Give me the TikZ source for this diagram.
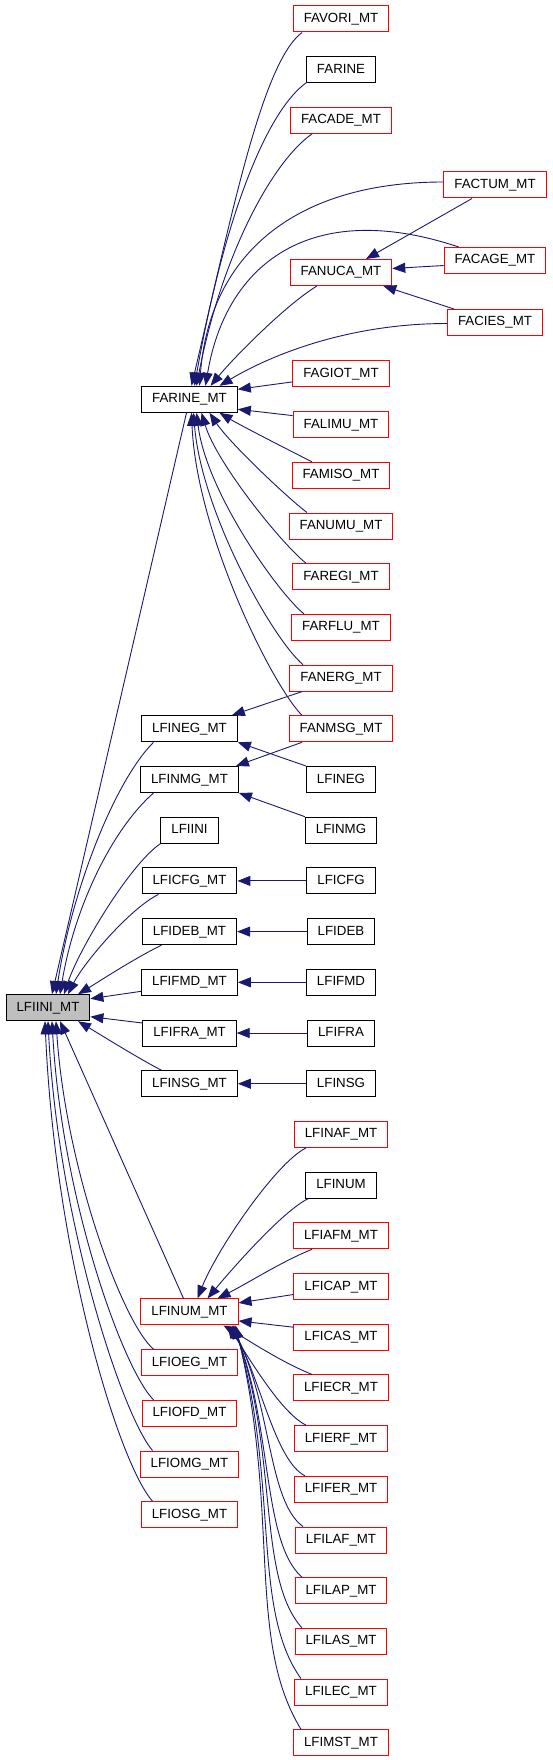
\documentclass[tikz,border=0pt]{standalone}
\usepackage{fontspec}
\setmainfont{Liberation Sans}
\usetikzlibrary{arrows.meta,calc}
\definecolor{edgeblue}{HTML}{191970}
\definecolor{boxred}{HTML}{FF0000}
\definecolor{rootgray}{HTML}{BFBFBF}
\begin{document}
\begin{tikzpicture}[x=1pt,y=-1pt,
  box/.style={draw=black, line width=1pt, rectangle, inner xsep=10.5pt, inner ysep=0pt,
    minimum height=26pt, text height=9.5pt, text depth=2.5pt, font=\fontsize{13.3}{15}\selectfont},
  rbox/.style={box, draw=boxred},
  e/.style={draw=edgeblue, line width=0.9pt, -{Triangle[length=13pt,width=10pt]}}]
\useasboundingbox (0,0) rectangle (552,1760);
% ---------- nodes ----------
\node[rbox] (FAVORIMT) at (341,19.0) {FAVORI\_MT};
\node[box]  (FARINE)   at (341,69.7) {FARINE};
\node[rbox] (FACADEMT) at (341,120.4) {FACADE\_MT};
\node[rbox] (FACTUMMT) at (495,185) {FACTUM\_MT};
\node[rbox] (FACAGEMT) at (495,260.5) {FACAGE\_MT};
\node[rbox] (FANUCAMT) at (341,272.5) {FANUCA\_MT};
\node[rbox] (FACIESMT) at (495,322.5) {FACIES\_MT};
\node[rbox] (FAGIOTMT) at (341,373.9) {FAGIOT\_MT};
\node[box]  (FARINEMT) at (189.5,399.3) {FARINE\_MT};
\node[rbox] (FALIMUMT) at (341,424.6) {FALIMU\_MT};
\node[rbox] (FAMISOMT) at (341,475.3) {FAMISO\_MT};
\node[rbox] (FANUMUMT) at (341,526.0) {FANUMU\_MT};
\node[rbox] (FAREGIMT) at (341,576.7) {FAREGI\_MT};
\node[rbox] (FARFLUMT) at (341,627.4) {FARFLU\_MT};
\node[rbox] (FANERGMT) at (341,678.1) {FANERG\_MT};
\node[rbox] (FANMSGMT) at (341,728.8) {FANMSG\_MT};
\node[box]  (LFINEGMT) at (189.5,728.8) {LFINEG\_MT};
\node[box]  (LFINMGMT) at (189.5,779.5) {LFINMG\_MT};
\node[box]  (LFINEG)   at (341,779.5) {LFINEG};
\node[box]  (LFIINI)   at (189.5,830.2) {LFIINI};
\node[box]  (LFINMG)   at (341,830.2) {LFINMG};
\node[box]  (LFICFGMT) at (189.5,880.9) {LFICFG\_MT};
\node[box]  (LFICFG)   at (341,880.9) {LFICFG};
\node[box]  (LFIDEBMT) at (189.5,931.6) {LFIDEB\_MT};
\node[box]  (LFIDEB)   at (341,931.6) {LFIDEB};
\node[box]  (LFIFMDMT) at (189.5,982.3) {LFIFMD\_MT};
\node[box]  (LFIFMD)   at (341,982.3) {LFIFMD};
\node[box, fill=rootgray] (LFIINIMT) at (48,1007.7) {LFIINI\_MT};
\node[box]  (LFIFRAMT) at (189.5,1033.0) {LFIFRA\_MT};
\node[box]  (LFIFRA)   at (341,1033.0) {LFIFRA};
\node[box]  (LFINSGMT) at (189.5,1083.7) {LFINSG\_MT};
\node[box]  (LFINSG)   at (341,1083.7) {LFINSG};
\node[rbox] (LFINAFMT) at (341,1134.4) {LFINAF\_MT};
\node[box]  (LFINUM)   at (341,1185.1) {LFINUM};
\node[rbox] (LFIAFMMT) at (341,1235.8) {LFIAFM\_MT};
\node[rbox] (LFICAPMT) at (341,1286.5) {LFICAP\_MT};
\node[rbox] (LFINUMMT) at (189.5,1311.9) {LFINUM\_MT};
\node[rbox] (LFICASMT) at (341,1337.2) {LFICAS\_MT};
\node[rbox] (LFIOEGMT) at (189.5,1362.6) {LFIOEG\_MT};
\node[rbox] (LFIECRMT) at (341,1387.9) {LFIECR\_MT};
\node[rbox] (LFIOFDMT) at (189.5,1413.3) {LFIOFD\_MT};
\node[rbox] (LFIERFMT) at (341,1438.6) {LFIERF\_MT};
\node[rbox] (LFIOMGMT) at (189.5,1464.0) {LFIOMG\_MT};
\node[rbox] (LFIFERMT) at (341,1489.3) {LFIFER\_MT};
\node[rbox] (LFIOSGMT) at (189.5,1514.7) {LFIOSG\_MT};
\node[rbox] (LFILAFMT) at (341,1540.0) {LFILAF\_MT};
\node[rbox] (LFILAPMT) at (341,1590.7) {LFILAP\_MT};
\node[rbox] (LFILASMT) at (341,1641.4) {LFILAS\_MT};
\node[rbox] (LFILECMT) at (341,1692.1) {LFILEC\_MT};
\node[rbox] (LFIMSTMT) at (341,1742.8) {LFIMST\_MT};
% ---------- edges into FARINE_MT ----------
\draw[e] ($(FAVORIMT.south)+(-39,0)$) .. controls +(-40,30) and +(40,-170) .. ($(FARINEMT.north)+(2,0)$);
\draw[e] ($(FARINE.south west)+(1,-1)$) .. controls +(-40,28) and +(30,-170) .. ($(FARINEMT.north)+(5,0)$);
\draw[e] ($(FACADEMT.south)+(-29,0)$) .. controls +(-40,28) and +(25,-130) .. ($(FARINEMT.north)+(7,0)$);
\draw[e] ($(FACTUMMT.west)+(0,-3)$) .. controls +(-150,0) and +(10,-130) .. ($(FARINEMT.north)+(10,0)$);
\draw[e] ($(FACAGEMT.north west)+(15,0)$) .. controls +(-150,-50) and +(20,-120) .. ($(FARINEMT.north)+(16,0)$);
\draw[e] ($(FANUCAMT.south)+(-24,0)$) .. controls +(-30,18) and +(25,-30) .. ($(FARINEMT.north)+(21,0)$);
\draw[e] ($(FACIESMT.west)+(0,1)$) .. controls +(-100,0) and +(50,-30) .. ($(FARINEMT.north)+(30,0)$);
\draw[e] ($(FAGIOTMT.west)+(0,8)$) -- ($(FARINEMT.east)+(0,-10)$);
\draw[e] ($(FALIMUMT.west)+(0,-9)$) -- ($(FARINEMT.east)+(0,10)$);
\draw[e] ($(FAMISOMT.north)+(-29,0)$) .. controls +(-20,-10) and +(20,12) .. ($(FARINEMT.south)+(30,0)$);
\draw[e] ($(FANUMUMT.north)+(-34,0)$) .. controls +(-20,-15) and +(20,30) .. ($(FARINEMT.south)+(20,0)$);
\draw[e] ($(FAREGIMT.north)+(-35,0)$) .. controls +(-25,-20) and +(15,50) .. ($(FARINEMT.south)+(12,0)$);
\draw[e] ($(FARFLUMT.north)+(-37,0)$) .. controls +(-25,-20) and +(10,80) .. ($(FARINEMT.south)+(7,0)$);
\draw[e] ($(FANERGMT.north)+(-38,0)$) .. controls +(-30,-25) and +(8,100) .. ($(FARINEMT.south)+(4,0)$);
\draw[e] ($(FANMSGMT.north)+(-39,0)$) .. controls +(-30,-30) and +(5,120) .. ($(FARINEMT.south)+(2,0)$);
% ---------- edges into FANUCA_MT ----------
\draw[e] ($(FACTUMMT.south)+(-23,0)$) -- ($(FANUCAMT.north)+(25,0)$);
\draw[e] ($(FACAGEMT.west)+(0,5)$) -- ($(FANUCAMT.east)+(0,-4)$);
\draw[e] ($(FACIESMT.north west)+(7,0)$) -- ($(FANUCAMT.south east)+(-9,0)$);
% ---------- edges into LFINEG_MT / LFINMG_MT ----------
\draw[e] ($(FANERGMT.south)+(-39,0)$) -- ($(LFINEGMT.north east)+(-6,0)$);
\draw[e] (LFINEG.north west) -- (LFINEGMT.south east);
\draw[e] ($(FANMSGMT.south)+(-39,0)$) -- ($(LFINMGMT.north east)+(-3,0)$);
\draw[e] (LFINMG.north west) -- (LFINMGMT.south east);
% ---------- horizontal edges ----------
\draw[e] (LFICFG.west) -- (LFICFGMT.east);
\draw[e] (LFIDEB.west) -- (LFIDEBMT.east);
\draw[e] (LFIFMD.west) -- (LFIFMDMT.east);
\draw[e] (LFIFRA.west) -- (LFIFRAMT.east);
\draw[e] (LFINSG.west) -- (LFINSGMT.east);
% ---------- edges into LFIINI_MT ----------
\draw[e] ($(FARINEMT.south)+(-3,0)$) -- ($(LFIINIMT.north)+(4,0)$);
\draw[e] ($(LFINEGMT.south)+(-36,0)$) .. controls +(-40,40) and +(15,-100) .. ($(LFIINIMT.north)+(8,0)$);
\draw[e] ($(LFINMGMT.south)+(-36,0)$) .. controls +(-40,35) and +(15,-90) .. ($(LFIINIMT.north)+(12,0)$);
\draw[e] (LFIINI.south west) .. controls +(-30,20) and +(15,-45) .. ($(LFIINIMT.north)+(16,0)$);
\draw[e] ($(LFICFGMT.south)+(-31,0)$) .. controls +(-30,15) and +(15,-30) .. ($(LFIINIMT.north)+(20,0)$);
\draw[e] ($(LFIDEBMT.south)+(-28,0)$) .. controls +(-30,15) and +(20,-12) .. ($(LFIINIMT.north)+(30,0)$);
\draw[e] ($(LFIFMDMT.west)+(0,9)$) -- ($(LFIINIMT.east)+(0,-9)$);
\draw[e] ($(LFIFRAMT.west)+(0,-10)$) -- ($(LFIINIMT.east)+(0,9)$);
\draw[e] ($(LFINSGMT.north)+(-28,0)$) .. controls +(-20,-10) and +(20,12) .. ($(LFIINIMT.south)+(30,0)$);
\draw[e] ($(LFINUMMT.north)+(-6,0)$) -- ($(LFIINIMT.south)+(12,0)$);
\draw[e] ($(LFIOEGMT.north)+(-36,0)$) .. controls +(-30,-25) and +(10,150) .. ($(LFIINIMT.south)+(8,0)$);
\draw[e] ($(LFIOFDMT.north)+(-36,0)$) .. controls +(-30,-30) and +(10,180) .. ($(LFIINIMT.south)+(4,0)$);
\draw[e] ($(LFIOMGMT.north)+(-37,0)$) .. controls +(-30,-35) and +(10,200) .. (LFIINIMT.south);
\draw[e] ($(LFIOSGMT.north)+(-37,0)$) .. controls +(-35,-40) and +(10,230) .. ($(LFIINIMT.south)+(-3,0)$);
% ---------- edges into LFINUM_MT ----------
\draw[e] ($(LFINAFMT.south)+(-35,0)$) .. controls +(-30,15) and +(20,-50) .. ($(LFINUMMT.north)+(8,0)$);
\draw[e] ($(LFINUM.south west)+(3,0)$) .. controls +(-25,12) and +(25,-30) .. ($(LFINUMMT.north)+(18,0)$);
\draw[e] ($(LFIAFMMT.south)+(-29,0)$) .. controls +(-30,12) and +(30,-15) .. ($(LFINUMMT.north)+(28,0)$);
\draw[e] ($(LFICAPMT.west)+(0,8)$) -- ($(LFINUMMT.east)+(0,-9)$);
\draw[e] ($(LFICASMT.west)+(0,-10)$) -- ($(LFINUMMT.east)+(0,9)$);
\draw[e] ($(LFIECRMT.north)+(-29,0)$) .. controls +(-30,-12) and +(25,15) .. ($(LFINUMMT.south)+(34,0)$);
\draw[e] ($(LFIERFMT.north)+(-35,0)$) .. controls +(-25,-12) and +(20,30) .. ($(LFINUMMT.south)+(38,0)$);
\draw[e] ($(LFIFERMT.north)+(-36,0)$) .. controls +(-30,-15) and +(30,50) .. ($(LFINUMMT.south)+(40,0)$);
\draw[e] ($(LFILAFMT.north)+(-38,0)$) .. controls +(-35,-25) and +(40,80) .. ($(LFINUMMT.south)+(42,0)$);
\draw[e] ($(LFILAPMT.north)+(-39,0)$) .. controls +(-40,-35) and +(40,100) .. ($(LFINUMMT.south)+(43,0)$);
\draw[e] ($(LFILASMT.north)+(-39,0)$) .. controls +(-45,-50) and +(45,130) .. ($(LFINUMMT.south)+(44,0)$);
\draw[e] ($(LFILECMT.north)+(-40,0)$) .. controls +(-50,-70) and +(45,160) .. ($(LFINUMMT.south)+(45,0)$);
\draw[e] ($(LFIMSTMT.north)+(-40,0)$) .. controls +(-55,-90) and +(45,190) .. ($(LFINUMMT.south)+(46,0)$);
\end{tikzpicture}
\end{document}
